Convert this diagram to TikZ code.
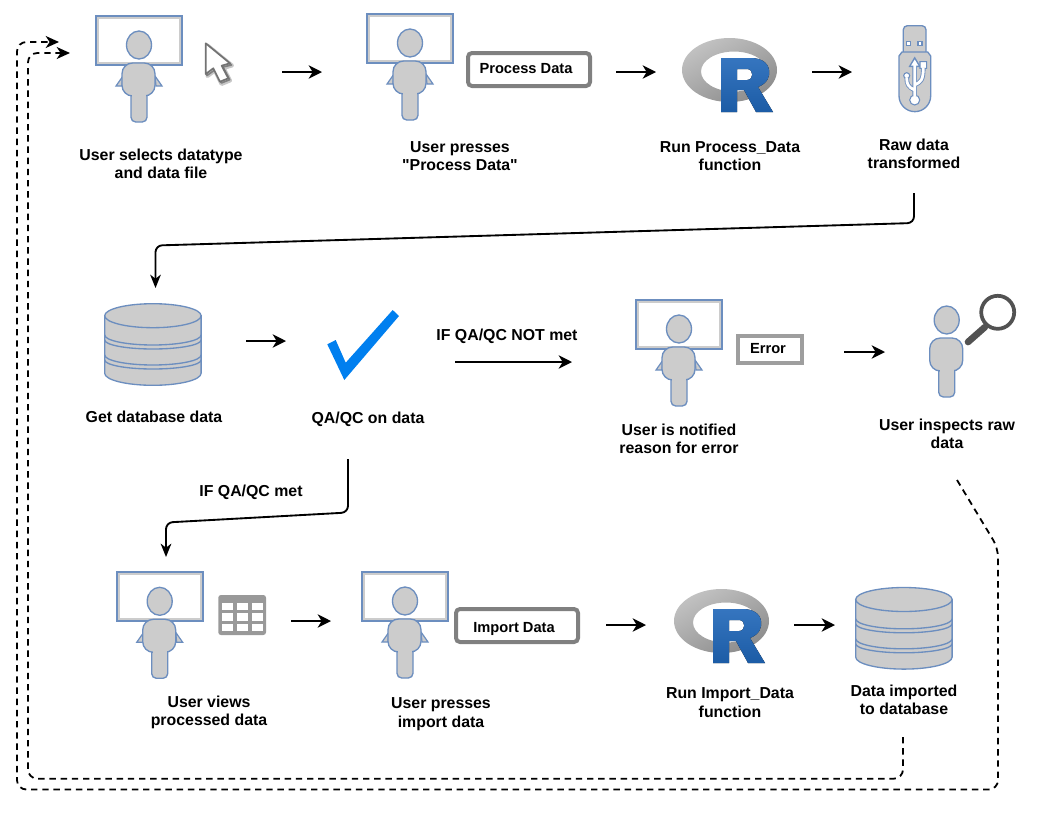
\documentclass[tikz,border=0pt]{standalone}
\usepackage{fontspec}
\setmainfont{Liberation Sans}
\newfontfamily\plainsans{Liberation Sans}
\usepackage{xcolor}
\usetikzlibrary{arrows.meta, positioning, fit}
\definecolor{iconfill}{HTML}{CCCCCC}
\definecolor{iconline}{HTML}{6C8EBF}
\definecolor{tickblue}{HTML}{007FEF}
\definecolor{rblue}{HTML}{1F66B8}
\tikzset{
    px/.style={x=0.75pt, y=-0.75pt},
    label/.style={inner sep=0pt, align=center, font=\fontsize{11.9pt}{13.8pt}\selectfont\bfseries},
    btn/.style={inner sep=0pt, font=\fontsize{11pt}{13pt}\selectfont\bfseries},
    hold/.style={inner sep=0pt, outer sep=0pt},
    arrow/.style={-{Stealth[length=10pt, width=10pt, inset=3pt]}, line width=1.3pt},
    link/.style={-{Stealth[length=10pt, width=8pt, inset=3pt]}, line width=1.4pt, rounded corners=5pt},
    back/.style={-{Stealth[length=10pt, width=9pt, inset=3pt]}, line width=1.35pt, rounded corners=7pt, dash pattern=on 4.8pt off 3.6pt},
    icon/.style={fill=iconfill, draw=iconline, line width=1pt},
    figure/.pic={
        \draw[icon] (0,0) ellipse [x radius=12.5, y radius=14];
        \draw[icon, rounded corners=3.5pt] (-8,45) -- (-8,77) -- (8,77) -- (8,45);
        \draw[icon, rounded corners=8pt] (-17,18) rectangle (16,51);
        \fill[iconfill] (-7,49) rectangle (7,54);
    },
    viewer/.pic={
        \draw[icon, line width=0.9pt] (-17,41) -- (-23,41) -- (-16,31) -- cycle;
        \draw[icon, line width=0.9pt] (17,41) -- (23,41) -- (16,31) -- cycle;
        \fill[iconfill] (-43,-29) rectangle (43,20);
        \fill[white] (-40,-26) rectangle (40,17);
        \draw[iconline, line width=1.3pt] (-43,-29) rectangle (43,20);
        \pic at (0,0) {figure};
    },
    database/.pic={
        \draw[icon] (0,12) -- (0,69.6) arc [start angle=180, end angle=0, x radius=48.2, y radius=12] -- (96.4,12) -- cycle;
        \draw[icon] (48.2,12) ellipse [x radius=48.2, y radius=12];
        \foreach \y/\r in {31.3/10, 36.3/9, 51.3/10, 56.3/9}
            \draw[iconline, line width=1pt] (0,\y) arc [start angle=180, end angle=0, x radius=48.2, y radius=\r];
    },
    rlogo/.pic={
        \shade[even odd rule, left color=black!24, right color=black!45, shading angle=30]
            (47.5,32) ellipse [x radius=47.5, y radius=32]
            (52,33.5) ellipse [x radius=33, y radius=20];
        \fill[even odd rule, top color=rblue!90!white, bottom color=rblue!90!black]
            (39,20) -- (39,74) -- (55,74) -- (55,52) -- (62,52) -- (74,74) -- (91,74) -- (76,49)
            .. controls (86,45) and (88,38) .. (87,32) .. controls (86,24) and (78,20) .. (69,20) -- cycle
            (55,31) -- (55,42) -- (65,42) .. controls (72,42) and (72,31) .. (65,31) -- cycle;
    },
}
\begin{document}
\begin{tikzpicture}[px]
\useasboundingbox (0,0) rectangle (1063,814);

% first row
\node[hold, fit={(96,50) (282,94)}] (select) {};
\pic at (139,45) {viewer};
\draw[black!22, line width=3pt, line join=round] (207.5,45.5) -- (207.5,76) -- (215,70.5) -- (221.5,84) -- (230,80.5) -- (223.5,68) -- (232,65.5) -- cycle;
\draw[black!50, line width=1.2pt, line join=round] (207,45) -- (207,75.5) -- (214.7,70) -- (221.4,83) -- (229.7,79.7) -- (223,67) -- (231.5,65) -- cycle;
\draw[black!55, fill=white, line width=1.3pt, line join=round] (205.7,43.3) -- (205.7,74) -- (213.3,68.3) -- (220,81.7) -- (228.3,78.3) -- (221.7,65.7) -- (230,63.3) -- cycle;
\node[label] (selecttxt) at (161,164) {User selects datatype\\and data file};

\node[hold, fit={(322,50) (616,94)}] (press) {};
\pic at (410,43) {viewer};
\draw[black!50, line width=3pt, rounded corners=3pt] (468,53) rectangle (590,86);
\node[btn] (processtxt) at (526,68.5) {Process Data};
\node[label] (presstxt) at (460,156) {User presses\\{\plainsans "Process Data"}};

\node[hold, fit={(656,50) (812,94)}] (runproc) {};
\pic at (682,38) {rlogo};
\node[label] (runtxt) at (730,156) {Run Process\_Data\\function};

% usb stick
\node[hold, fit={(852,50) (935,94)}] (usb) {};
\draw[icon, rounded corners=3pt] (903.3,54) -- (903.3,25.7) -- (926,25.7) -- (926,54);
\draw[icon, fill=white, line width=0.8pt] (906.7,41.3) rectangle (910.7,45.3);
\draw[icon, fill=white, line width=0.8pt] (918,41.3) rectangle (922,45.3);
\draw[icon] (899,56) -- (902,52) -- (927.7,52) -- (930.7,56) -- (930.7,95.8) arc [start angle=0, end angle=180, radius=15.85] -- cycle;
\draw[iconline, line width=3.4pt] (914.7,64) -- (914.7,98) (914.7,90) .. controls (908,87) and (906.7,84) .. (906.7,77) (914.7,85) .. controls (921,82) and (923.3,80) .. (923.3,68);
\fill[iconline] (914.7,56.5) -- (908.5,67) -- (920.9,67) -- cycle;
\fill[white] (914.7,59.5) -- (911,65.7) -- (918.4,65.7) -- cycle;
\draw[iconline, fill=white, line width=0.8pt] (914.7,100) circle (5) (906.7,75.7) circle (3) (920,61.7) rectangle (926.7,68.3);
\draw[white, line width=2.1pt] (914.7,65) -- (914.7,96) (914.7,90) .. controls (908,87) and (906.7,84) .. (906.7,78) (914.7,85) .. controls (921,82) and (923.3,80) .. (923.3,67.5);
\node[label] (rawtxt) at (914,154) {Raw data\\transformed};

\draw[arrow] (select) -- (press);
\draw[arrow] (press) -- (runproc);
\draw[arrow] (runproc) -- (usb);

% second row
\node[hold, fit={(105,330) (246,352)}] (getdb) {};
\pic at (104.7,303.7) {database};
\node[label] (dbtxt) at (154,417) {Get database data};
\node[hold, fit={(286,330) (455,352)}] (check) {};
\fill[tickblue] (327.3,344.3) -- (335.7,340) -- (345.7,362.7) -- (392.7,310) -- (399,316) -- (344.3,380) -- cycle;
\node[label] (qatxt) at (368,419) {QA/QC on data};
\node[label] (nottxt) at (507,336) {IF QA/QC NOT met};
\node[hold, fit={(572,340) (844,364)}] (notify) {};
\pic at (679,329) {viewer};
\draw[black!38, line width=3pt] (737.5,335.5) rectangle (801.5,362.5);
\node[btn] (errortxt) at (768,349) {Error};
\node[label] (notifytxt) at (679,439) {User is notified\\reason for error};
\node[hold, fit={(885,340) (1010,364)}] (inspect) {};
\pic at (946.7,320) {figure};
\draw[black!68, line width=2.8pt] (997.7,312.3) circle (16.5);
\draw[black!68, line width=5pt, line cap=round] (985,327) -- (968,342);
\node[label] (inspecttxt) at (947,434) {User inspects raw\\data};

\draw[arrow] (getdb) -- (check);
\coordinate (notgo) at (455,362);
\draw[arrow] (notgo) -- (notgo -| notify.west);
\draw[arrow] (notify) -- (inspect);

% third row
\node[hold, fit={(116,610) (291,632)}] (views) {};
\pic at (159.7,601.3) {viewer};
\fill[black!40, rounded corners=2pt] (218.3,595) rectangle (266,635);
\foreach \x in {222.3, 237.3, 251.7}
    \foreach \y in {602.7, 613.4, 624}
        \fill[white] (\x,\y) rectangle +(11,7.3);
\node[label] (viewtxt) at (209,712.5) {User views\\processed data};
\node[hold, fit={(331,610) (606,640)}] (press2) {};
\pic at (405,601) {viewer};
\draw[black!50, line width=3pt, rounded corners=3pt] (456,609) rectangle (578,642);
\node[btn] (importtxt) at (514,628.5) {Import Data};
\node[label] (press2txt) at (441,714) {User presses\\import data};
\node[hold, fit={(646,610) (794,640)}] (runimp) {};
\pic at (674,589) {rlogo};
\node[label] (run2txt) at (730,702.5) {Run Import\_Data\\function};
\node[hold, fit={(835,610) (952,640)}] (store) {};
\pic at (855.7,587.5) {database};
\node[label] (storetxt) at (904,700) {Data imported\\to database};
\node[label] (mettxt) at (251,492) {IF QA/QC met};

\draw[arrow] (views) -- (views -| press2.west);
\draw[arrow] (press2) -- (runimp);
\draw[arrow] (runimp) -- (store);

% links between rows
\coordinate (rawout) at (914,193);
\coordinate (dbin) at (155.5,288);
\draw[link] (rawout) -- (914,223) -- (155.5,245.5) -- (dbin);
\coordinate (qaout) at (348,459);
\coordinate (viewin) at (166,557);
\draw[link] (qaout) -- (348,512.5) -- (166,522.5) -- (viewin);

% dashed returns
\coordinate (outerstart) at (957,480);
\coordinate (outerend) at (59,42);
\draw[back] (outerstart) -- (998,548) -- (998,789.5) -- (17,789.5) -- (17,42) -- (outerend);
\coordinate (innerstart) at (903,737);
\coordinate (innerend) at (70,53);
\draw[back] (innerstart) -- (903,778.7) -- (28,778.7) -- (28,53) -- (innerend);
\end{tikzpicture}
\end{document}
